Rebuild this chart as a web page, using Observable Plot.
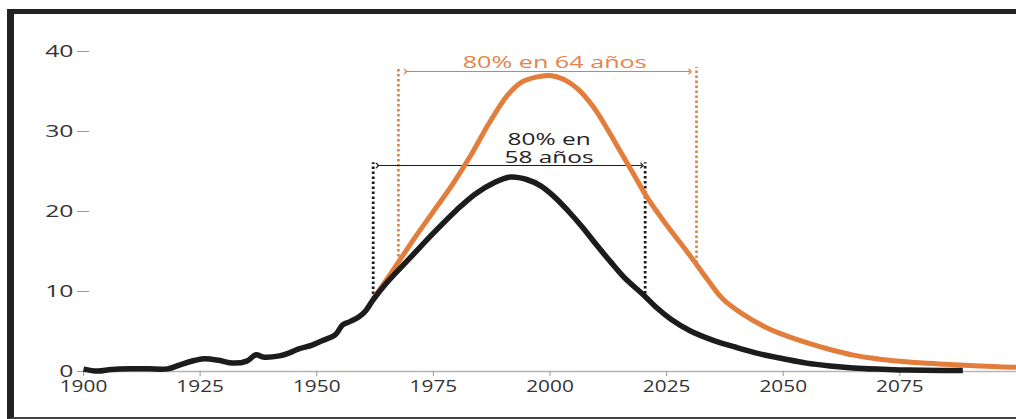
<!DOCTYPE html>
<html>
<head>
<meta charset="utf-8">
<script src="https://cdn.jsdelivr.net/npm/d3@7"></script>
<script src="https://cdn.jsdelivr.net/npm/@observablehq/plot@0.6"></script>
<style>
  html, body { margin: 0; padding: 0; background: #fff; }
  #frame {
    position: absolute; left: 7px; top: 9px;
    width: 1009px; height: 410px; box-sizing: border-box;
    border-left: 7px solid #222; border-top: 5px solid #222; border-bottom: 2px solid #444;
    background: #fff; overflow: hidden;
  }
  #frame svg { display: block; }
</style>
</head>
<body>
<div id="frame"></div>
<script>
// ---- data ----
const blackYears  = [1900,1903,1906,1910,1914,1918,1921,1924,1926,1929,1932,1935,1937,1938.5,1942,1944,1946,1949,1951,1954,1955.5,1957,1959,1960.5,1962,1965,1970,1975,1980,1984,1988,1991.5,1995,1998,2001,2004,2007,2010,2013,2016,2020,2023,2026,2030,2035,2040,2045,2050,2055,2060,2065,2070,2075,2080,2088.5];
const blackValues = [0.3,0.05,0.25,0.35,0.33,0.33,0.9,1.4,1.6,1.4,1.05,1.3,2.1,1.8,1.95,2.3,2.8,3.3,3.8,4.6,5.8,6.2,6.8,7.6,8.9,11.1,14.2,17.3,20.2,22.2,23.6,24.3,24.0,23.2,21.8,20.0,18.0,15.8,13.7,11.7,9.6,7.9,6.5,5.1,3.9,3.0,2.2,1.6,1.05,0.7,0.45,0.3,0.2,0.15,0.12];

const orangeYears  = [1962,1965,1968,1971,1975,1979,1983,1987,1991,1994,1997,2000,2003,2006,2009,2012,2015,2018,2021,2025,2030,2034,2037,2041,2046,2050,2055,2060,2065,2070,2075,2080,2085,2090,2095,2100];
const orangeValues = [9.0,11.5,14.1,16.7,20.0,23.3,27.0,31.1,34.6,36.2,36.8,37.0,36.5,35.3,33.3,30.6,27.6,24.6,21.6,18.3,14.5,11.3,9.1,7.3,5.6,4.6,3.6,2.75,2.05,1.6,1.28,1.05,0.9,0.75,0.62,0.52];

const xTicks = [1900,1925,1950,1975,2000,2025,2050,2075];
const yTicks = [0,10,20,30,40];

// 80% windows
const span58Years   = [1962.1, 2020.4];
const span58Bottoms = [9.0, 9.7];
const span58Top     = 26.1;
const arrow58       = [1963.0, 2019.7, 25.75];
const label58       = ["80% en\n58 años", 1999.8, 27.9];

const span64Years   = [1967.5, 2031.4];
const span64Bottoms = [13.7, 13.5];
const span64Top     = 38.0;
const arrow64       = [1969.0, 2030.0, 37.5];
const label64       = ["80% en 64 años", 2001, 38.6];

// ---- tables ----
const black  = blackYears.map((year, i) => ({year, value: blackValues[i]}));
const orange = orangeYears.map((year, i) => ({year, value: orangeValues[i]}));
const rules58 = span58Years.map((year, i) => ({year, bottom: span58Bottoms[i], top: span58Top}));
const rules64 = span64Years.map((year, i) => ({year, bottom: span64Bottoms[i], top: span64Top}));

const ORANGE = "#e27d3c";
const BLACK = "#1c1c1c";

const chart = Plot.plot({
  width: 1002,
  height: 403,
  marginLeft: 69,
  marginRight: 0,
  marginTop: 37,
  marginBottom: 46,
  style: {fontFamily: "'Open Sans', sans-serif", background: "white", color: "#333"},
  x: {domain: [1900, 2100], label: null},
  y: {domain: [0, 40], label: null},
  marks: [
    Plot.ruleY([0], {stroke: "#b5b5b5", strokeWidth: 1.5}),
    Plot.axisX(xTicks, {tickSize: 5, tickPadding: 4, stroke: "#999", fill: "#333", fontSize: 16, tickFormat: d => String(d)}),
    Plot.axisY(yTicks, {tickSize: 12, dx: 6, tickPadding: 4, stroke: "#999", fill: "#333", fontSize: 16.5}),
    Plot.ruleX(rules64, {x: "year", y1: "bottom", y2: "top", stroke: ORANGE, strokeWidth: 2.6, strokeDasharray: "2.5,2.5"}),
    Plot.ruleX(rules58, {x: "year", y1: "bottom", y2: "top", stroke: BLACK, strokeWidth: 2.8, strokeDasharray: "2.5,2.5"}),
    Plot.link([arrow64], {x1: d => d[0], x2: d => d[1], y1: d => d[2], y2: d => d[2], stroke: ORANGE, strokeWidth: 1.2, markerStart: "arrow", markerEnd: "arrow"}),
    Plot.link([arrow58], {x1: d => d[0], x2: d => d[1], y1: d => d[2], y2: d => d[2], stroke: BLACK, strokeWidth: 1.2, markerStart: "arrow", markerEnd: "arrow"}),
    Plot.line(orange, {x: "year", y: "value", stroke: ORANGE, strokeWidth: 5, curve: "catmull-rom", strokeLinecap: "butt"}),
    Plot.line(black, {x: "year", y: "value", stroke: BLACK, strokeWidth: 5.5, curve: "catmull-rom", strokeLinecap: "butt"}),
    Plot.text([label64], {x: d => d[1], y: d => d[2], text: d => d[0], fill: "#e3844a", fontSize: 17}),
    Plot.text([label58], {x: d => d[1], y: d => d[2], text: d => d[0], fill: "#222", fontSize: 16.5, lineHeight: 1.12})
  ]
});

document.getElementById("frame").appendChild(chart);

// horizontally stretch text, as in the reference artwork
function stretch(selector, s) {
  d3.select(chart).selectAll(selector).each(function() {
    const t = this.getAttribute("transform");
    if (t) {
      this.setAttribute("transform", t + ` scale(${s},1)`);
    } else {
      const x = +this.getAttribute("x") || 0, y = +this.getAttribute("y") || 0;
      this.removeAttribute("x"); this.removeAttribute("y");
      this.setAttribute("transform", `translate(${x},${y}) scale(${s},1)`);
    }
  });
}
stretch('g[aria-label="text"] text', 1.48);
stretch('g[aria-label="x-axis tick label"] text', 1.3);
stretch('g[aria-label="y-axis tick label"] text', 1.5);
</script>
</body>
</html>
